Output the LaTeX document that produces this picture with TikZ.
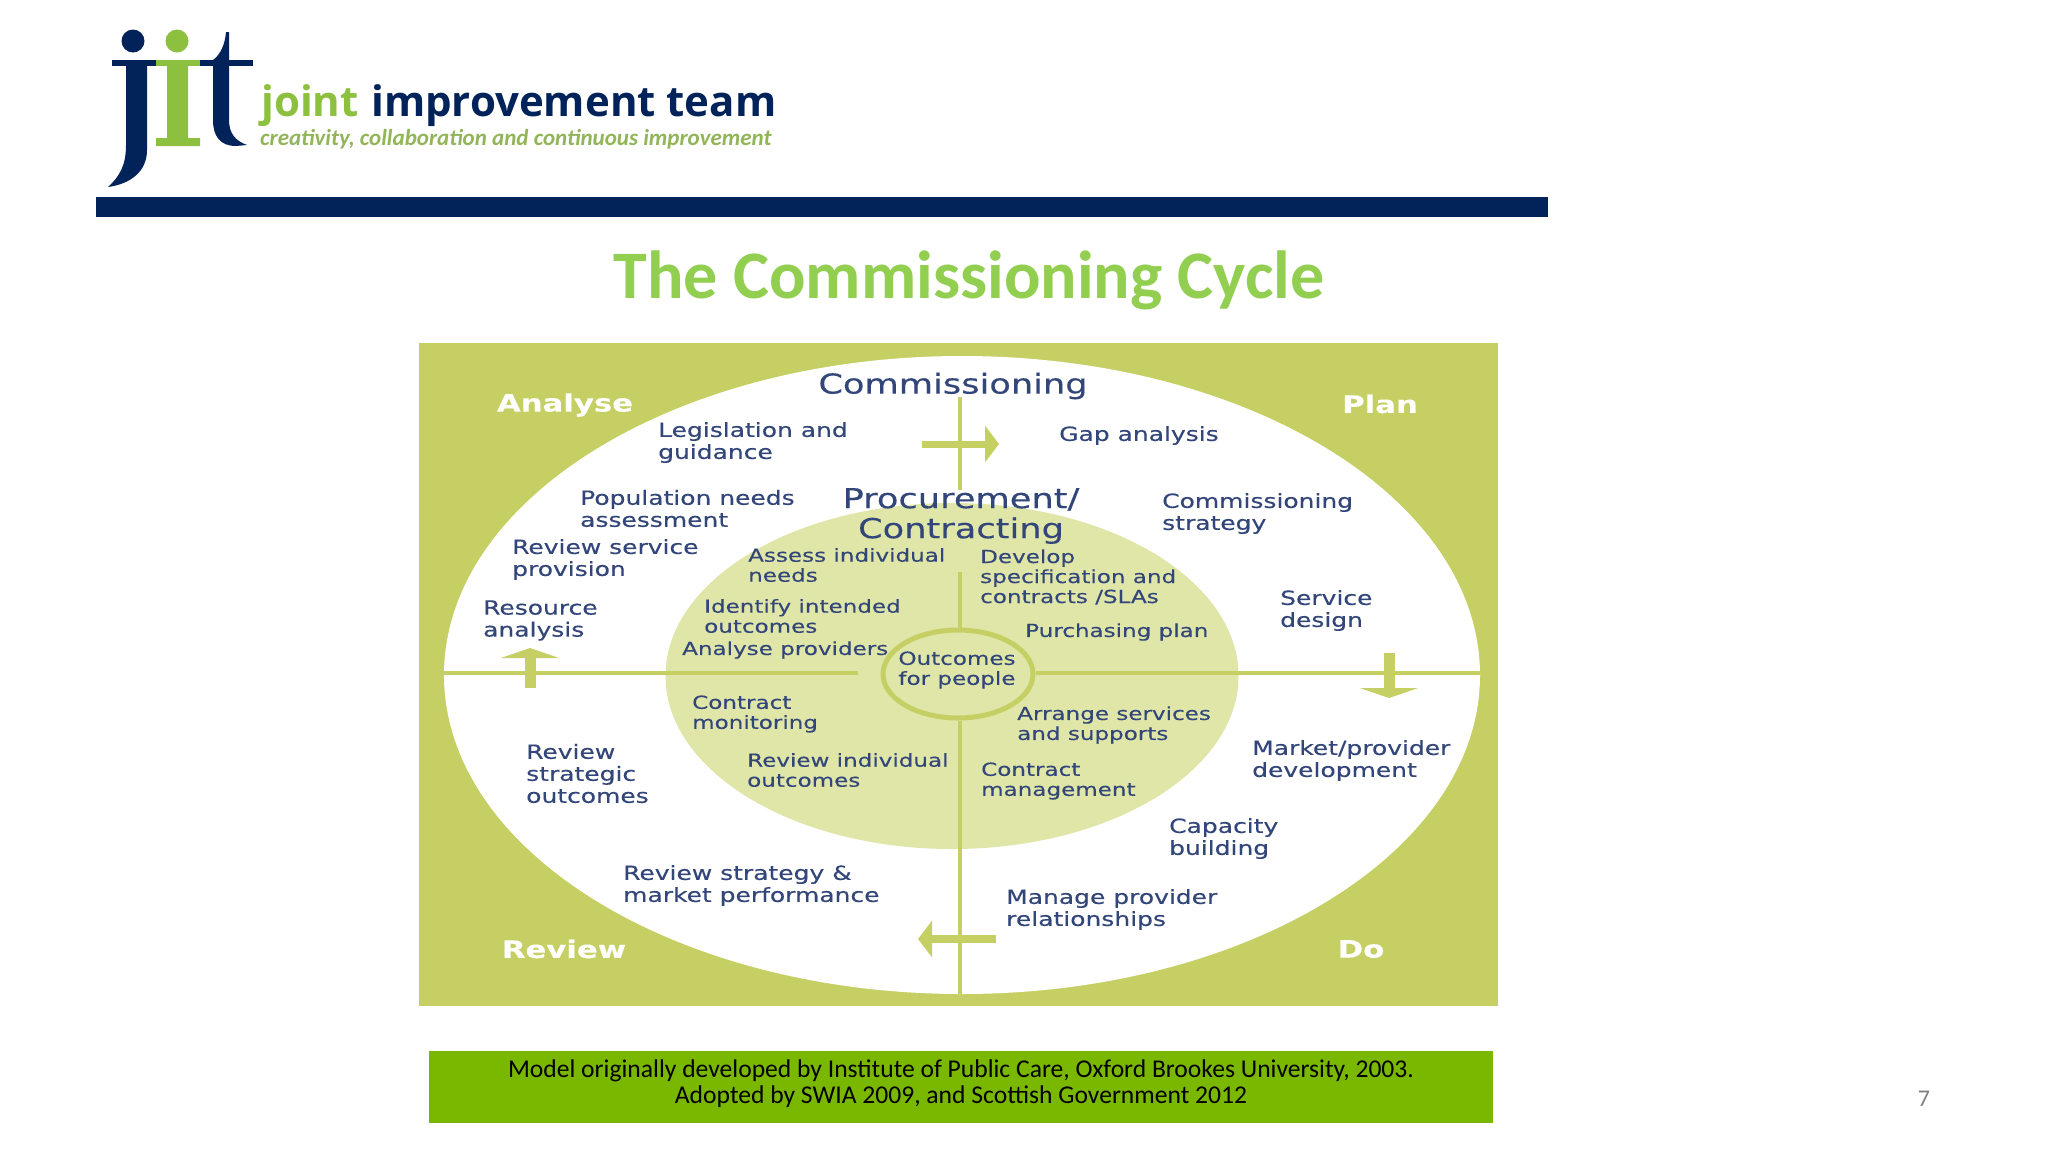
\documentclass[tikz,border=0pt]{standalone}
\usepackage{fontspec}
\usepackage{xcolor}
\usetikzlibrary{arrows.meta,shapes.geometric}
\setmainfont{DejaVu Sans}
\newfontfamily\diagramfont[FakeStretch=1.28,FakeBold=0.3]{DejaVu Sans}
\newfontfamily\calibrifont{Carlito}
\newfontfamily\logofont{Open Sans}
\definecolor{C0}{HTML}{C6CF63}
\definecolor{C1}{HTML}{DFE6A8}
\definecolor{C2}{HTML}{33467A}
\definecolor{C3}{HTML}{02235A}
\definecolor{C4}{HTML}{92CF50}
\definecolor{C5}{HTML}{7AB800}
\definecolor{C6}{HTML}{8DC03F}
\definecolor{C7}{HTML}{93B55A}
\tikzset{
  outertext/.style={anchor=west, align=left, inner sep=0pt, yshift=-1.5pt, text=C2, font=\diagramfont\fontsize{19.5}{22}\selectfont},
  innertext/.style={anchor=west, align=left, inner sep=0pt, yshift=-1pt, text=C2, font=\diagramfont\fontsize{18}{20}\selectfont},
  headtext/.style={align=center, inner sep=0pt, yshift=-3pt, text=C2, font=\diagramfont\fontsize{27.5}{30}\selectfont},
  cornertext/.style={inner sep=0pt, text=white, font=\diagramfont\bfseries\fontsize{24}{28}\selectfont},
  guideline/.style={draw=C0, line width=3.5pt},
  bigarrow/.style={draw=C0, line width=#1, -{Triangle[length=10pt, width=58pt]}},
  flatarrow/.style={draw=C0, line width=#1, -{Triangle[length=14pt, width=36pt]}},
  logopart/.style={fill=#1, draw=none},
}
\begin{document}
\begin{tikzpicture}[x=1pt, y=-1pt]%
\useasboundingbox (0,0) rectangle (2048,1152);%
% logo
\fill[white] (0,0) rectangle (2048,1152);%
\fill[logopart=C3] (133,41) circle (11.5);%
\fill[logopart=C6] (177,41) circle (11.5);%
\fill[logopart=C3] (112,60) rectangle (156,66);%
\fill[logopart=C6] (156,60) rectangle (200,66);%
\fill[logopart=C3] (200,60) rectangle (253,66);%
\fill[logopart=C3] (126,66) -- (147,66) -- (147,150) .. controls (147,172) and (130,184) .. (108,187) .. controls (120,176) and (126,165) .. (126,145) -- cycle;%
\fill[logopart=C6] (167,66) -- (188,66) -- (188,138) -- (200,138) -- (200,146) -- (156,146) -- (156,138) -- (167,138) -- cycle;%
\fill[logopart=C3] (226,32) -- (229,32) -- (229,120) .. controls (229,134) and (236,141) .. (247,145) -- (236,146) .. controls (220,146) and (213,136) .. (213,120) -- (213,60) .. controls (220,55) and (225,45) .. (226,32) -- cycle;%
\node[anchor=base west, inner sep=0pt, text=C6, font=\logofont\bfseries\fontsize{42}{44}\selectfont] (joint) at (261,116) {joint};%
\node[anchor=base west, inner sep=0pt, text=C3, font=\logofont\bfseries\fontsize{42}{44}\selectfont] (team) at (371,116) {improvement team};%
\node[anchor=base west, inner sep=0pt, text=C7, font=\calibrifont\itshape\bfseries\fontsize{23}{26}\selectfont] (tagline) at (260,145) {creativity, collaboration and continuous improvement};%
\fill[C3] (96,197) rectangle (1548,217);%
\node[inner sep=0pt, text=C4, font=\calibrifont\bfseries\fontsize{68}{70}\selectfont] (title) at (969,280) {The Commissioning Cycle};%
% cycle
\fill[C0] (419,343) rectangle (1498,1006);%
\node[ellipse, fill=white, minimum width=1036pt, minimum height=638pt, inner sep=0pt] (outerring) at (962,675) {};%
\node[ellipse, fill=C1, minimum width=573pt, minimum height=346pt, inner sep=0pt] (innerring) at (952,676) {};%
\node[ellipse, draw=C0, line width=5pt, fill=C1, minimum width=150pt, minimum height=88pt, inner sep=0pt] (hub) at (958,674) {};%
\coordinate (topend) at (960,397);%
\coordinate (topmid) at (960,490);%
\coordinate (innertop) at (960,572);%
\coordinate (bottomend) at (960,994);%
\coordinate (leftend) at (444,673);%
\coordinate (leftstop) at (858,673);%
\coordinate (rightend) at (1480,673);%
\draw[guideline] (topend) -- (topmid);%
\draw[guideline] (innertop) -- (hub.north -| innertop);%
\draw[guideline] (hub.south -| bottomend) -- (bottomend);%
\draw[guideline] (leftend) -- (leftstop);%
\draw[guideline] (hub.east |- rightend) -- (rightend);%
\coordinate (arrowtopa) at (922,444);%
\coordinate (arrowtopb) at (999,444);%
\coordinate (arrowrighta) at (1389,653);%
\coordinate (arrowrightb) at (1389,698);%
\coordinate (arrowbottoma) at (996,939);%
\coordinate (arrowbottomb) at (918,939);%
\coordinate (arrowlefta) at (530,688);%
\coordinate (arrowleftb) at (530,648);%
\draw[flatarrow=7pt] (arrowtopa) -- (arrowtopb);%
\draw[bigarrow=11pt] (arrowrighta) -- (arrowrightb);%
\draw[flatarrow=8pt] (arrowbottoma) -- (arrowbottomb);%
\draw[bigarrow=11pt] (arrowlefta) -- (arrowleftb);%
\node[headtext] (commissioning) at (953,383) {Commissioning};%
\node[headtext] (procurement) at (961,513) {Procurement/\\Contracting};%
\node[align=center, inner sep=0pt, yshift=-1pt, text=C2, font=\diagramfont\fontsize{18}{20}\selectfont] (outcomes) at (957,669) {Outcomes\\for people};%
\node[cornertext] (analyse) at (565,405) {Analyse};%
\node[cornertext] (plan) at (1380,404) {Plan};%
\node[cornertext] (review) at (564,949) {Review};%
\node[cornertext] (do) at (1361,949) {Do};%
\node[outertext] (legislation) at (658,441) {Legislation and\\guidance};%
\node[outertext] (population) at (580,507) {Population needs\\assessment};%
\node[outertext] (provision) at (512,558) {Review service\\provision};%
\node[outertext] (resource) at (483,619) {Resource\\analysis};%
\node[outertext] (strategic) at (526,772) {Review\\strategic\\outcomes};%
\node[outertext] (market) at (623,884) {Review strategy \&\\market performance};%
\node[outertext] (manage) at (1006,908) {Manage provider\\relationships};%
\node[outertext] (capacity) at (1169,837) {Capacity\\building};%
\node[outertext] (provider) at (1252,759) {Market/provider\\development};%
\node[outertext] (service) at (1280,609) {Service\\design};%
\node[outertext] (strategy) at (1162,512) {Commissioning\\strategy};%
\node[outertext] (gap) at (1059,434) {Gap analysis};%
\node[innertext] (assess) at (748,564) {Assess individual\\needs};%
\node[innertext] (identify) at (704,615) {Identify intended\\outcomes};%
\node[innertext] (providers) at (682,649) {Analyse providers};%
\node[innertext] (monitoring) at (692,713) {Contract\\monitoring};%
\node[innertext] (individual) at (747,769) {Review individual\\outcomes};%
\node[innertext] (management) at (981,780) {Contract\\management};%
\node[innertext] (arrange) at (1017,724) {Arrange services\\and supports};%
\node[innertext] (purchasing) at (1025,631) {Purchasing plan};%
\node[innertext] (develop) at (980,576) {Develop\\specification and\\contracts /SLAs};%
% source and page number
\node[fill=C5, minimum width=1064pt, minimum height=72pt, inner sep=0pt] (banner) at (961,1087) {};%
\node[align=center, inner sep=0pt, text=black, font=\calibrifont\fontsize{25.6}{26}\selectfont] (source) at (961,1084) {Model originally developed by Institute of Public Care, Oxford Brookes University, 2003.\\Adopted by SWIA 2009, and Scottish Government 2012};%
\node[inner sep=0pt, text=gray, font=\calibrifont\fontsize{24}{26}\selectfont] (pagenumber) at (1924,1099) {7};%
\end{tikzpicture}
\end{document}
